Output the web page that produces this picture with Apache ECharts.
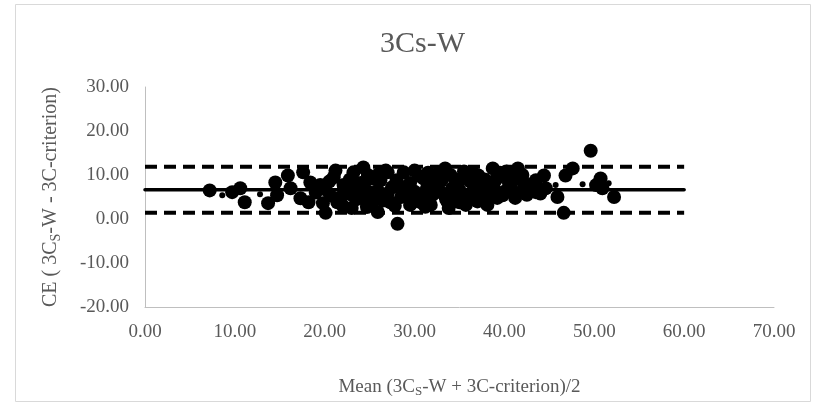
<!DOCTYPE html>
<html>
<head>
<meta charset="utf-8">
<title>3Cs-W</title>
<script src="https://cdn.jsdelivr.net/npm/echarts@6/dist/echarts.min.js"></script>
<style>
  html, body { margin: 0; padding: 0; background: #fff; }
  #chart { width: 817px; height: 404px; }
</style>
</head>
<body>
<div id="chart"></div>
<script>
// Bland-Altman 图：3Cs-W 与 3C-criterion

// 均值 (x) 与差值 CE (y)
const meanVals = [
  7.2, 9.7, 10.6, 11.1, 13.7, 14.5, 14.7, 15.9, 16.2, 17.6,
  17.3, 18.2, 18.4, 19.5, 19.8, 20.1, 20.6, 21.2, 21.4, 22.1,
  22.5, 23.2, 23.6, 24.3, 24.3, 24.7, 25.3, 25.9, 25.9, 27.0,
  27.3, 28.1, 28.2, 28.8, 29.2, 30.7, 31.0, 31.4, 31.5, 31.8,
  32.6, 33.4, 33.7, 34.2, 34.8, 35.7, 35.9, 36.6, 37.1, 37.7,
  38.1, 38.7, 38.8, 39.6, 39.8, 40.7, 41.5, 41.8, 42.1, 42.9,
  43.5, 44.4, 44.6, 45.9, 46.6, 46.8, 47.6, 49.6, 50.2, 50.7,
  50.9, 52.2, 19.0, 20.5, 21.8, 22.8, 23.5, 24.0, 25.0, 26.2,
  26.5, 27.5, 28.5, 29.5, 30.0, 30.5, 32.0, 33.0, 33.0, 34.5,
  35.0, 36.0, 36.5, 37.5, 38.5, 39.0, 40.0, 41.0, 42.5, 43.5,
  27.8, 29.5, 33.8, 35.5, 37.0, 39.5, 24.8, 22.0, 26.8, 30.0,
  32.5, 20.0, 21.0, 22.5, 23.0, 24.5, 25.5, 26.0, 27.0, 28.0,
  29.0, 29.8, 31.0, 31.5, 32.2, 33.5, 34.0, 34.8, 36.2, 36.8,
  37.8, 38.2, 39.2, 40.5, 41.2, 42.0, 43.0, 44.0, 40.2, 35.0,
  31.2, 25.2, 23.0
];
const diffVals = [
  6.5, 6.1, 7.0, 3.8, 3.6, 8.3, 5.4, 9.9, 7.0, 10.6,
  4.7, 3.8, 8.3, 7.7, 3.6, 1.4, 5.4, 11.0, 3.8, 7.7,
  5.9, 10.6, 7.0, 11.7, 4.7, 2.7, 9.2, 1.6, 6.5, 10.6,
  3.8, -1.1, 7.7, 10.6, 5.4, 3.8, 9.2, 7.0, 4.7, 3.2,
  7.7, 11.5, 3.8, 7.0, 5.4, 3.2, 9.2, 7.7, 9.9, 5.0,
  3.2, 11.5, 7.0, 9.9, 5.4, 7.0, 11.5, 6.1, 8.3, 7.7,
  6.1, 9.9, 7.0, 5.0, 1.4, 9.9, 11.5, 15.5, 7.7, 9.2,
  7.0, 5.0, 6.0, 8.5, 5.0, 9.0, 4.5, 8.2, 6.0, 8.8,
  4.2, 7.2, 5.0, 8.2, 6.2, 9.8, 5.5, 8.8, 6.0, 9.0,
  6.5, 5.0, 10.5, 7.5, 5.8, 8.8, 6.2, 9.0, 5.5, 8.8,
  3.0, 3.2, 2.5, 10.8, 4.0, 10.5, 10.0, 3.0, 11.0, 11.0,
  10.2, 6.8, 9.5, 7.5, 5.5, 6.8, 4.8, 10.2, 5.8, 8.8,
  6.8, 4.5, 5.8, 10.5, 8.2, 4.5, 10.0, 7.8, 8.5, 6.2,
  9.0, 6.5, 4.8, 8.2, 4.8, 10.0, 6.5, 5.8, 10.8, 3.8,
  2.8, 3.2, 2.5
];
// 小点
const smallMean = [8.6, 12.8, 45.7, 48.7, 51.6];
const smallDiff = [5.4, 5.6, 7.7, 7.9, 8.1];

// 均值线和一致性界限
const biasValue = 6.65;
const upperLoA = 11.9;
const lowerLoA = 1.4;
const lineRange = [0, 60];

const xTicks = [0, 10, 20, 30, 40, 50, 60, 70];
const yTicks = [-20, -10, 0, 10, 20, 30];

const pts = meanVals.map((m, i) => [m, diffVals[i]]);
const smallPts = smallMean.map((m, i) => [m, smallDiff[i]]);
const hLine = v => lineRange.map(x => [x, v]);

const serif = "'Liberation Serif', 'DejaVu Serif', serif";
const grey = '#595959';

let myChart = echarts.init(document.getElementById('chart'));
let option = {
  animation: false,
  backgroundColor: '#fff',
  title: {
    text: '3Cs-W',
    left: 375,
    top: 24,
    textStyle: { fontFamily: serif, fontSize: 30, fontWeight: 'normal', color: grey }
  },
  graphic: [{
    type: 'rect',
    shape: { x: 15.5, y: 4.5, width: 795, height: 397 },
    style: { fill: 'none', stroke: '#d9d9d9', lineWidth: 1 },
    silent: true
  }],
  grid: { left: 145, right: 43, top: 87, bottom: 97 },
  xAxis: {
    type: 'value',
    min: xTicks[0],
    max: xTicks[xTicks.length - 1],
    interval: 10,
    name: '{a|Mean (3C}{s|S}{a|-W + 3C-criterion)/2}',
    nameLocation: 'middle',
    nameGap: 68,
    nameTextStyle: {
      rich: {
        a: { fontFamily: serif, fontSize: 19, color: grey, lineHeight: 24 },
        s: { fontFamily: serif, fontSize: 13, color: grey, lineHeight: 24, padding: [10, 0, 0, 0] }
      }
    },
    axisLine: { onZero: false, lineStyle: { color: '#bfbfbf', width: 1 } },
    axisTick: { show: false },
    splitLine: { show: false },
    axisLabel: {
      margin: 16,
      fontFamily: serif, fontSize: 19, color: grey,
      formatter: v => v.toFixed(2)
    }
  },
  yAxis: {
    type: 'value',
    min: yTicks[0],
    max: yTicks[yTicks.length - 1],
    interval: 10,
    name: '{a|CE ( 3C}{s|S}{a|-W - 3C-criterion)}',
    nameLocation: 'middle',
    nameGap: 82,
    nameTextStyle: {
      rich: {
        a: { fontFamily: serif, fontSize: 20, color: grey, lineHeight: 24 },
        s: { fontFamily: serif, fontSize: 14, color: grey, lineHeight: 24, padding: [10, 0, 0, 0] }
      }
    },
    axisLine: { show: true, lineStyle: { color: '#bfbfbf', width: 1 } },
    axisTick: { show: false },
    splitLine: { show: false },
    axisLabel: {
      margin: 16,
      fontFamily: serif, fontSize: 19, color: grey,
      formatter: v => v.toFixed(2)
    }
  },
  series: [
    {
      type: 'line', data: hLine(biasValue), symbol: 'none',
      lineStyle: { color: '#000', width: 3.5, cap: 'round' }, z: 2
    },
    {
      type: 'line', data: hLine(upperLoA), symbol: 'none',
      lineStyle: { color: '#000', width: 4, type: [12, 7] }, z: 2
    },
    {
      type: 'line', data: hLine(lowerLoA), symbol: 'none',
      lineStyle: { color: '#000', width: 4, type: [12, 7] }, z: 2
    },
    {
      type: 'scatter', data: pts, symbolSize: 14,
      itemStyle: { color: '#000', opacity: 1 }, z: 3
    },
    {
      type: 'scatter', data: smallPts, symbolSize: 6,
      itemStyle: { color: '#000', opacity: 1 }, z: 3
    }
  ]
};
myChart.setOption(option);
</script>
</body>
</html>
